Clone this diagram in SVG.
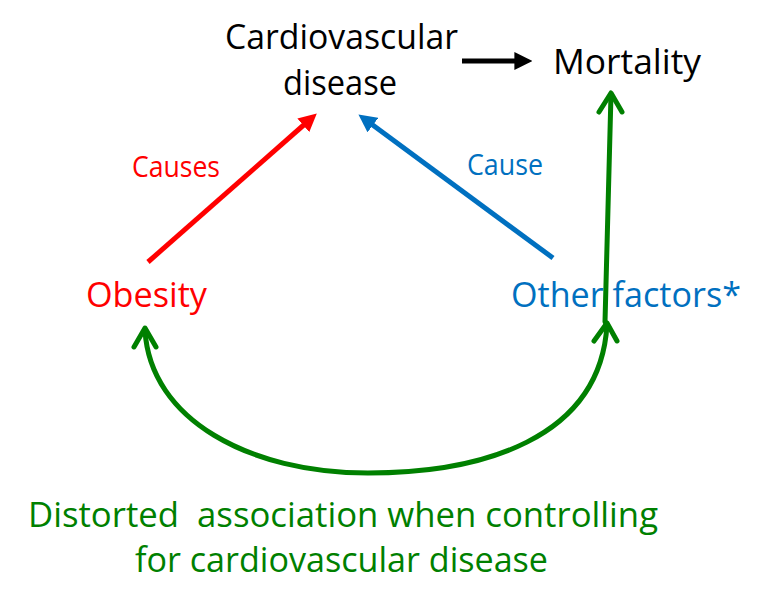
<svg xmlns="http://www.w3.org/2000/svg" width="768" height="612" viewBox="0 0 768 612">
<style>
text{font-family:"Open Sans","Liberation Sans",sans-serif;}
.big{font-size:35px;}
.small{font-size:29px;}
.blk{fill:#000;}
.red{fill:#ff0000;}
.blue{fill:#0070c0;}
.grn{fill:#008000;}
.ln{fill:none;stroke-width:5;}
.open{fill:none;stroke:#008000;stroke-width:5;stroke-linecap:round;stroke-linejoin:round;}
</style>
<defs>
<marker id="ah-black" viewBox="0 0 10 10" refX="2" refY="5" markerWidth="3.6" markerHeight="3.6" orient="auto" markerUnits="strokeWidth"><path d="M0,0 L10,5 L0,10 z" fill="#000"/></marker>
<marker id="ah-red" viewBox="0 0 10 10" refX="2" refY="5" markerWidth="3.6" markerHeight="3.6" orient="auto" markerUnits="strokeWidth"><path d="M0,0 L10,5 L0,10 z" fill="#ff0000"/></marker>
<marker id="ah-blue" viewBox="0 0 10 10" refX="2" refY="5" markerWidth="3.6" markerHeight="3.6" orient="auto" markerUnits="strokeWidth"><path d="M0,0 L10,5 L0,10 z" fill="#0070c0"/></marker>
</defs>
<rect width="768" height="612" fill="#fff"/>
<g id="connectors">
<line class="ln" x1="462" y1="61" x2="518" y2="61" stroke="#000" marker-end="url(#ah-black)"/>
<line class="ln" x1="148" y1="262" x2="306" y2="123" stroke="#ff0000" marker-end="url(#ah-red)"/>
<line class="ln" x1="553" y1="258" x2="370" y2="123" stroke="#0070c0" marker-end="url(#ah-blue)"/>
<g id="green-vertical">
<path class="open" d="M605,322 L611,94"/>
<path class="open" d="M599,112 L611,93 L622,112"/>
</g>
<g id="green-curve">
<path class="open" d="M145,330 C150,420 250,473 368,473 C480,473 600,440 607,325"/>
<path class="open" d="M134,347 L145,328 L156,347"/>
<path class="open" d="M594,341 L607,323 L617,341"/>
</g>
</g>
<g id="node-cvd">
<text class="big blk" x="225" y="49" textLength="233" lengthAdjust="spacingAndGlyphs">Cardiovascular</text>
<text class="big blk" x="283" y="95" textLength="114" lengthAdjust="spacingAndGlyphs">disease</text>
</g>
<g id="node-mortality">
<text class="big blk" x="553" y="74" textLength="148" lengthAdjust="spacingAndGlyphs">Mortality</text>
</g>
<g id="node-obesity">
<text class="big red" x="86" y="307" textLength="121" lengthAdjust="spacingAndGlyphs">Obesity</text>
</g>
<g id="node-other">
<text class="big blue" x="511" y="307" textLength="230" lengthAdjust="spacingAndGlyphs">Other factors*</text>
</g>
<g id="label-causes">
<text class="small red" x="132" y="177" textLength="88" lengthAdjust="spacingAndGlyphs">Causes</text>
</g>
<g id="label-cause">
<text class="small blue" x="467" y="175" textLength="76" lengthAdjust="spacingAndGlyphs">Cause</text>
</g>
<g id="label-distorted">
<text class="big grn" x="28" y="527" textLength="630" lengthAdjust="spacingAndGlyphs" xml:space="preserve">Distorted  association when controlling</text>
<text class="big grn" x="135" y="572" textLength="413" lengthAdjust="spacingAndGlyphs">for cardiovascular disease</text>
</g>
</svg>
